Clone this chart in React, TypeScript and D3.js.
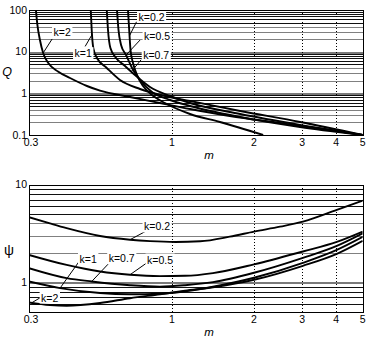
import React, { useEffect, useRef } from "react";
import * as d3 from "d3";

// shared m axis
const mTicks = [0.3, 1, 2, 3, 4, 5];
const mGrid = [1, 2, 3, 4];
const qTicks = [0.1, 1, 10, 100];
const psiTicks = [1, 10];

// upper panel: Q(m) for each k
const qM02 = [0.691, 0.7, 0.706, 0.721, 0.746, 0.785, 0.846, 0.944, 1.166, 1.5, 2.16];
const qV02 = [100, 25.1, 11.0, 5.35, 2.75, 1.5, 0.912, 0.586, 0.319, 0.205, 0.1];
const qM05 = [0.63, 0.638, 0.652, 0.68, 0.715, 0.765, 0.846, 0.985, 1.166, 1.78, 2.95, 5];
const qV05 = [100, 33.1, 14.5, 8.32, 4.06, 2.09, 1.08, 0.692, 0.497, 0.27, 0.156, 0.1];
const qM07 = [0.578, 0.584, 0.596, 0.625, 0.674, 0.733, 0.832, 0.985, 1.166, 1.78, 2.95, 5];
const qV07 = [100, 33.1, 12.2, 7.05, 4.53, 2.75, 1.42, 0.863, 0.586, 0.319, 0.174, 0.1];
const qM1 = [0.505, 0.509, 0.516, 0.532, 0.578, 0.646, 0.765, 0.944, 1.166, 1.78, 2.95, 5];
const qV1 = [100, 33.1, 12.2, 7.05, 4.06, 2.09, 1.27, 0.863, 0.655, 0.377, 0.205, 0.1];
const qM2 = [0.318, 0.322, 0.329, 0.338, 0.353, 0.383, 0.424, 0.489, 0.546, 0.703, 0.905, 1.166, 1.63, 2.49, 3.8, 5];
const qV2 = [100, 43.7, 19.1, 9.29, 5.35, 3.34, 2.33, 1.5, 1.16, 0.817, 0.586, 0.421, 0.286, 0.194, 0.132, 0.1];

// lower panel: psi(m) for each k
const pM02 = [0.3, 0.358, 0.412, 0.546, 0.703, 0.832, 1.03, 1.27, 1.63, 2.0, 2.49, 3.02, 4.02, 5];
const pV02 = [4.62, 3.99, 3.57, 2.97, 2.72, 2.63, 2.58, 2.62, 2.92, 3.29, 3.7, 4.16, 5.49, 6.83];
const pM05 = [0.3, 0.412, 0.546, 0.703, 0.905, 1.118, 1.415, 2.0, 3.02, 4.02, 5];
const pV05 = [1.9, 1.5, 1.285, 1.19, 1.153, 1.161, 1.237, 1.52, 2.06, 2.58, 3.29];
const pM07 = [0.3, 0.412, 0.509, 0.703, 0.905, 1.118, 1.415, 2.0, 3.02, 4.02, 5];
const pV07 = [1.39, 1.1, 1.015, 0.93, 0.9, 0.93, 1.0, 1.246, 1.77, 2.35, 3.16];
const pM1 = [0.3, 0.39, 0.546, 0.703, 0.905, 1.118, 1.415, 2.0, 3.02, 4.02, 5];
const pV1 = [1.015, 0.869, 0.773, 0.751, 0.76, 0.806, 0.897, 1.108, 1.577, 2.14, 2.91];
const pM2 = [0.3, 0.358, 0.412, 0.546, 0.703, 0.905, 1.118, 1.415, 2.0, 3.02, 4.02, 5];
const pV2 = [0.619, 0.583, 0.573, 0.611, 0.684, 0.751, 0.816, 0.886, 1.057, 1.47, 1.95, 2.65];

type Note = { text: string; m: number; v: number; lx: number; ly: number; tx: number; ty: number };

// annotation anchors on the curves, leader/label offsets in px
const topNotes: Note[] = [
  { text: "k=2", m: 0.338, v: 9.3, lx: 9, ly: -14, tx: 19, ty: -21 },
  { text: "k=1", m: 0.511, v: 26, lx: -7, ly: 12, tx: -9, ty: 19 },
  { text: "k=0.2", m: 0.7, v: 24, lx: 7, ly: -14, tx: 22, ty: -19 },
  { text: "k=0.5", m: 0.68, v: 8.3, lx: 14, ly: -15, tx: 31, ty: -19 },
  { text: "k=0.7", m: 0.71, v: 3.3, lx: 10, ly: -12, tx: 25, ty: -17 },
];
const bottomNotes: Note[] = [
  { text: "k=0.2", m: 0.703, v: 2.72, lx: 15, ly: -8, tx: 27, ty: -13 },
  { text: "k=0.5", m: 0.703, v: 1.19, lx: 17, ly: -12, tx: 30, ty: -15 },
  { text: "k=0.7", m: 0.509, v: 1.015, lx: 17, ly: -18, tx: 30, ty: -23 },
  { text: "k=1", m: 0.39, v: 0.869, lx: 20, ly: -28, tx: 28, ty: -29 },
  { text: "k=2", m: 0.307, v: 0.614, lx: 10, ly: -6, tx: 18, ty: -5 },
];

const FONT = "'Liberation Sans', Arial, sans-serif";

const leadDigit = (v: number) => Math.round(v / Math.pow(10, Math.floor(Math.log10(v) + 1e-9)));

function drawPanel(root: any, cfg: any) {
  const { id, top, bottom, yDomain, yTicks, yTitle, titleX, titleY, titleSize, titleItalic, curves, notes } = cfg;
  const left = 29;
  const right = 362.7;
  const x = d3.scaleLog().domain([0.3, 5]).range([left, right]);
  const y = d3.scaleLog().domain(yDomain).range([bottom, top]);
  const g = root.append("g");

  g.append("clipPath").attr("id", id).append("rect")
    .attr("x", left).attr("y", top).attr("width", right - left).attr("height", bottom - top);

  // horizontal log grid (drawn heavy like the printed original)
  const hLines = y.ticks().filter((v: number) => y(v) > top + 1 && y(v) < bottom - 1);
  g.selectAll("line.hgrid").data(hLines).enter().append("line")
    .attr("x1", left).attr("x2", right)
    .attr("y1", (d: number) => Math.round(y(d)) + 0.5)
    .attr("y2", (d: number) => Math.round(y(d)) + 0.5)
    .attr("stroke", (d: number) => {
      const dg = leadDigit(d);
      return dg === 1 ? "#7a7a7a" : dg <= 4 ? "#808080" : "#111";
    })
    .attr("stroke-width", (d: number) => (leadDigit(d) === 1 ? 2 : 1))
    .attr("shape-rendering", "crispEdges");

  // vertical dotted grid
  g.selectAll("line.vgrid").data(mGrid).enter().append("line")
    .attr("x1", (d: number) => Math.round(x(d)) + 0.5)
    .attr("x2", (d: number) => Math.round(x(d)) + 0.5)
    .attr("y1", top).attr("y2", bottom)
    .attr("stroke", "#000").attr("stroke-dasharray", "1,2")
    .attr("shape-rendering", "crispEdges");

  // label boxes first (white, they break the grid)
  const noteG = g.append("g");
  notes.forEach((n: Note) => {
    const ax = x(n.m);
    const ay = y(n.v);
    const t = noteG.append("text")
      .attr("x", ax + n.tx).attr("y", ay + n.ty + 3.8)
      .attr("text-anchor", "middle")
      .style("font-family", FONT).style("font-size", "10.5px")
      .text(n.text);
    const bb = (t.node() as SVGTextElement).getBBox();
    noteG.insert("rect", "text")
      .attr("x", bb.x - 1.5).attr("y", bb.y).attr("width", bb.width + 3).attr("height", bb.height)
      .attr("fill", "#fff");
  });

  // curves
  const line = d3.line<[number, number]>()
    .x(d => x(d[0]))
    .y(d => y(d[1]))
    .curve(d3.curveMonotoneX);
  const cg = g.append("g").attr("clip-path", `url(#${id})`);
  curves.forEach((c: { m: number[]; v: number[] }) => {
    const pts = c.m.map((mm, i) => [mm, c.v[i]] as [number, number]);
    cg.append("path").attr("d", line(pts))
      .attr("fill", "none").attr("stroke", "#000").attr("stroke-width", 1.9);
  });

  // leaders
  notes.forEach((n: Note) => {
    const ax = x(n.m);
    const ay = y(n.v);
    g.append("line")
      .attr("x1", ax).attr("y1", ay).attr("x2", ax + n.lx).attr("y2", ay + n.ly)
      .attr("stroke", "#000").attr("stroke-width", 1);
  });
  noteG.raise();

  // frame
  g.append("rect")
    .attr("x", Math.round(left) + 0.5).attr("y", Math.round(top) + 0.5)
    .attr("width", Math.round(right) - Math.round(left)).attr("height", Math.round(bottom) - Math.round(top))
    .attr("fill", "none").attr("stroke", "#000").attr("shape-rendering", "crispEdges");

  // tick labels
  g.selectAll("text.xt").data(mTicks).enter().append("text")
    .attr("x", (d: number) => x(d) + (d === 0.3 ? 2 : 0)).attr("y", bottom + 11)
    .attr("text-anchor", "middle")
    .style("font-family", FONT).style("font-size", "10.5px")
    .text((d: number) => String(d));
  g.selectAll("text.yt").data(yTicks).enter().append("text")
    .attr("x", left - 2).attr("y", (d: number) => y(d) + 3.8)
    .attr("text-anchor", "end")
    .style("font-family", FONT).style("font-size", "10.5px")
    .text((d: number) => String(d));

  // axis titles
  g.append("text")
    .attr("x", 209).attr("y", bottom + 24)
    .attr("text-anchor", "middle")
    .style("font-family", FONT).style("font-size", "11.5px").style("font-style", "italic")
    .text("m");
  g.append("text")
    .attr("x", titleX).attr("y", titleY)
    .attr("text-anchor", "middle")
    .style("font-family", FONT).style("font-size", titleSize).style("font-style", titleItalic ? "italic" : "normal")
    .text(yTitle);
}

const App = () => {
  const ref = useRef<SVGSVGElement>(null);

  useEffect(() => {
    document.body.style.margin = "0";
    const svg = d3.select(ref.current);
    svg.selectAll("*").remove();

    drawPanel(svg, {
      id: "clip-q",
      top: 10,
      bottom: 135,
      yDomain: [0.1, 100],
      yTicks: qTicks,
      yTitle: "Q",
      titleX: 7,
      titleY: 76,
      titleSize: "12.5px",
      titleItalic: true,
      curves: [
        { m: qM02, v: qV02 },
        { m: qM05, v: qV05 },
        { m: qM07, v: qV07 },
        { m: qM1, v: qV1 },
        { m: qM2, v: qV2 },
      ],
      notes: topNotes,
    });

    drawPanel(svg, {
      id: "clip-psi",
      top: 184.5,
      bottom: 311.5,
      yDomain: [0.5, 10],
      yTicks: psiTicks,
      yTitle: "\u03c8",
      titleX: 9,
      titleY: 255,
      titleSize: "14px",
      titleItalic: false,
      curves: [
        { m: pM02, v: pV02 },
        { m: pM05, v: pV05 },
        { m: pM07, v: pV07 },
        { m: pM1, v: pV1 },
        { m: pM2, v: pV2 },
      ],
      notes: bottomNotes,
    });
  }, []);

  return <svg ref={ref} width={370} height={353} style={{ display: "block", background: "#fff" }} />;
};

export default App;
